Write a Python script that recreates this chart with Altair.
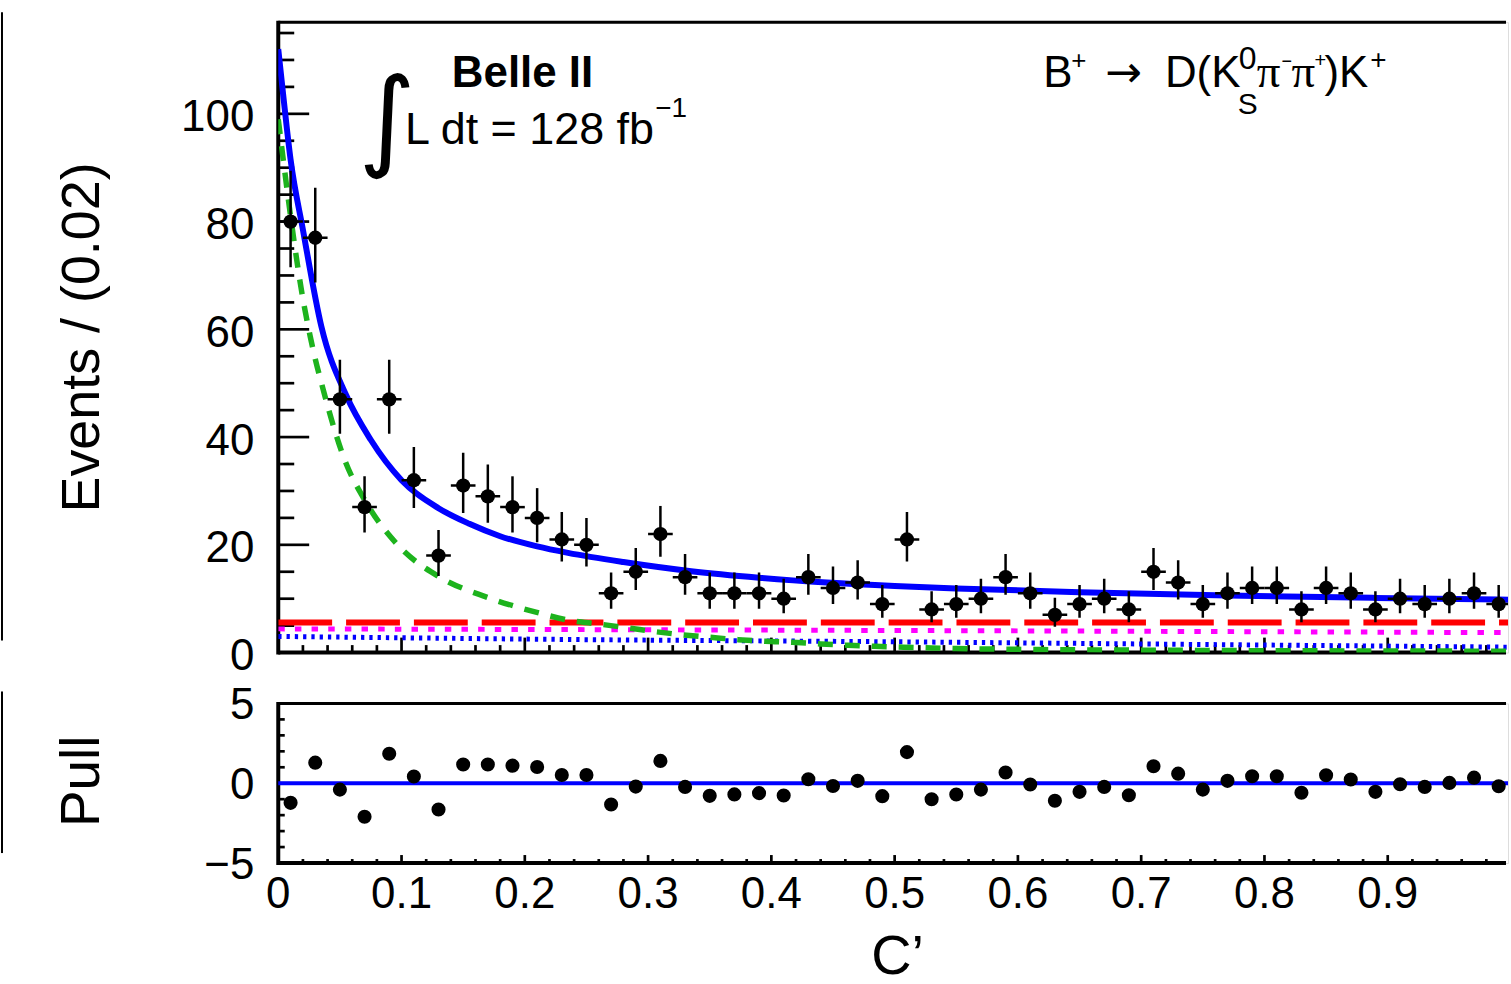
import altair as alt
import numpy as np
import pandas as pd

FONT = "Liberation Sans"
W = 1233            # visible width of the plot area (px)
X_MAX = 0.99757     # C' value at the visible right edge
H_TOP = 632
H_PULL = 160

# ---- binned data (bin width 0.02) ----
bin_center = [0.01, 0.03, 0.05, 0.07, 0.09, 0.11, 0.13, 0.15, 0.17, 0.19,
              0.21, 0.23, 0.25, 0.27, 0.29, 0.31, 0.33, 0.35, 0.37, 0.39,
              0.41, 0.43, 0.45, 0.47, 0.49, 0.51, 0.53, 0.55, 0.57, 0.59,
              0.61, 0.63, 0.65, 0.67, 0.69, 0.71, 0.73, 0.75, 0.77, 0.79,
              0.81, 0.83, 0.85, 0.87, 0.89, 0.91, 0.93, 0.95, 0.97, 0.99]
events = [80, 77, 47, 27, 47, 32, 18, 31, 29, 27,
          25, 21, 20, 11, 15, 22, 14, 11, 11, 11,
          10, 14, 12, 13, 9, 21, 8, 9, 10, 14,
          11, 7, 9, 10, 8, 15, 13, 9, 11, 12,
          12, 8, 12, 11, 8, 10, 9, 10, 11, 9]
pull = [-1.23, 1.29, -0.40, -2.10, 1.85, 0.42, -1.65, 1.17, 1.17, 1.10,
        1.02, 0.52, 0.52, -1.33, -0.21, 1.40, -0.23, -0.79, -0.70, -0.62,
        -0.77, 0.25, -0.17, 0.15, -0.81, 1.95, -1.00, -0.71, -0.40, 0.67,
        -0.08, -1.10, -0.54, -0.23, -0.75, 1.06, 0.60, -0.40, 0.15, 0.44,
        0.44, -0.60, 0.50, 0.23, -0.54, -0.06, -0.23, 0.02, 0.35, -0.19]

# ---- fit model and its components along C' ----
total_x = [0, 0.004, 0.01, 0.02, 0.035, 0.055, 0.075, 0.1, 0.13, 0.155,
           0.18, 0.21, 0.235, 0.28, 0.335, 0.39, 0.445, 0.5, 0.55, 0.65,
           0.77, 0.89, 1.0]
total_y = [112, 103.5, 91.5, 78.5, 60.5, 47.8, 39.5, 32.0, 26.8, 23.9,
           21.6, 19.7, 18.5, 16.8, 15.1, 13.9, 13.0, 12.35, 11.9, 11.2,
           10.6, 10.15, 9.8]
signal_x = [0, 0.01, 0.019, 0.026, 0.038, 0.053, 0.072, 0.096, 0.131, 0.169,
            0.209, 0.236, 0.26, 0.283, 0.305, 0.328, 0.35, 0.373, 0.395, 0.417,
            0.44, 0.462, 0.484, 0.507, 0.53, 0.55, 0.6, 0.7, 0.8, 0.9, 1.0]
signal_y = [99, 81, 67, 58.6, 47.5, 36.3, 27.6, 20.2, 14.0, 10.3,
            7.5, 6.0, 5.3, 4.6, 3.9, 3.3, 2.85, 2.4, 2.1, 1.9,
            1.6, 1.36, 1.17, 1.0, 0.87, 0.75, 0.6, 0.45, 0.35, 0.3, 0.25]
red_x = [0, 1.0]
red_y = [5.6, 5.6]
magenta_x = [0, 0.5, 1.0]
magenta_y = [4.4, 4.1, 3.7]
bluedot_x = [0, 0.25, 0.5, 0.75, 1.0]
bluedot_y = [3.0, 2.4, 2.0, 1.5, 1.0]

# ---- axis ticks and labels ----
y_major = [0, 20, 40, 60, 80, 100]
y_major_text = ["0", "20", "40", "60", "80", "100"]
y_minor = [v for v in range(5, 117, 5) if v % 20]
x_major = [0.1, 0.2, 0.3, 0.4, 0.5, 0.6, 0.7, 0.8, 0.9]
x_minor = [round(0.02 * i, 2) for i in range(1, 50) if i % 5]
x_labels = [0, 0.1, 0.2, 0.3, 0.4, 0.5, 0.6, 0.7, 0.8, 0.9]
x_labels_text = ["0", "0.1", "0.2", "0.3", "0.4", "0.5", "0.6", "0.7", "0.8", "0.9"]
p_major = [0]
p_minor = [-4, -3, -2, -1, 1, 2, 3, 4]
p_labels = [-5, 0, 5]
p_labels_text = ["\u22125", "0", "5"]

data = pd.DataFrame({"c": bin_center, "n": events, "pull": pull})
data["lo"] = data["n"] + 0.5 - np.sqrt(data["n"] + 0.25)
data["hi"] = data["n"] + 0.5 + np.sqrt(data["n"] + 0.25)
data["c_lo"] = data["c"] - 0.01
data["c_hi"] = data["c"] + 0.01

one = pd.DataFrame({"k": [0]})

xs = alt.Scale(domain=[0, X_MAX], nice=False, zero=False)
ys = alt.Scale(domain=[0, 117], nice=False)
ps = alt.Scale(domain=[-5, 5], nice=False)


def curve(xv, yv, color, width, dash=None):
    kw = dict(color=color, strokeWidth=width, clip=True, interpolate="monotone")
    if dash:
        kw["strokeDash"] = dash
    df = pd.DataFrame({"c": xv, "v": yv})
    return alt.Chart(df).mark_line(**kw).encode(
        x=alt.X("c:Q", scale=xs, axis=None),
        y=alt.Y("v:Q", scale=ys, axis=None))


def left_ticks(values, length, scale):
    df = pd.DataFrame({"v": values})
    return alt.Chart(df).mark_rule(color="black", strokeWidth=2.7).encode(
        x=alt.value(0), x2=alt.value(length),
        y=alt.Y("v:Q", scale=scale, axis=None))


def bottom_ticks(values, length, height):
    df = pd.DataFrame({"v": values})
    return alt.Chart(df).mark_rule(color="black", strokeWidth=2.7).encode(
        x=alt.X("v:Q", scale=xs, axis=None),
        y=alt.value(height), y2=alt.value(height - length))


def left_labels(values, texts, scale, dy):
    df = pd.DataFrame({"v": values, "t": texts})
    return alt.Chart(df).mark_text(
        font=FONT, fontSize=44, color="black", align="right",
        baseline="middle", dy=dy).encode(
        x=alt.value(-24), y=alt.Y("v:Q", scale=scale, axis=None), text="t:N")


def bottom_labels(values, texts, y):
    df = pd.DataFrame({"v": values, "t": texts})
    return alt.Chart(df).mark_text(
        font=FONT, fontSize=44, color="black", align="center",
        baseline="alphabetic").encode(
        x=alt.X("v:Q", scale=xs, axis=None), y=alt.value(y), text="t:N")


def frame(height, neighbour_top, neighbour_bottom):
    top = alt.Chart(one).mark_rule(color="black", strokeWidth=3).encode(
        x=alt.value(0), x2=alt.value(W - 2), y=alt.value(0))
    bottom = alt.Chart(one).mark_rule(color="black", strokeWidth=4).encode(
        x=alt.value(0), x2=alt.value(W - 2), y=alt.value(height))
    left = alt.Chart(one).mark_rule(color="black", strokeWidth=4).encode(
        x=alt.value(0), y=alt.value(-1.5), y2=alt.value(height + 2))
    # right edge of the neighbouring pad
    neighbour = alt.Chart(one).mark_rule(color="black", strokeWidth=2).encode(
        x=alt.value(-277), y=alt.value(neighbour_top),
        y2=alt.value(neighbour_bottom))
    return [top, bottom, left, neighbour]


def text(s, x, y, size, weight="normal", font=FONT, **kw):
    return alt.Chart(one).mark_text(
        text=s, font=font, fontSize=size, fontWeight=weight, color="black",
        align=kw.pop("align", "left"), baseline=kw.pop("baseline", "alphabetic"),
        **kw).encode(x=alt.value(x), y=alt.value(y))


# ---------------- upper pad ----------------
base = alt.Chart(data)
err_v = base.mark_rule(color="black", strokeWidth=2.5, clip=True).encode(
    x=alt.X("c:Q", scale=xs, axis=None),
    y=alt.Y("lo:Q", scale=ys, axis=None), y2="hi:Q")
err_h = base.mark_rule(color="black", strokeWidth=2.5, clip=True).encode(
    x=alt.X("c_lo:Q", scale=xs, axis=None), x2="c_hi:Q",
    y=alt.Y("n:Q", scale=ys, axis=None))
points = base.mark_circle(color="black", size=205, opacity=1).encode(
    x=alt.X("c:Q", scale=xs, axis=None),
    y=alt.Y("n:Q", scale=ys, axis=None))

upper_layers = frame(H_TOP, -10, 620) + [
    left_ticks(y_major, 31, ys),
    left_ticks(y_minor, 16, ys),
    bottom_ticks(x_major, 15, H_TOP),
    bottom_ticks(x_minor, 7.5, H_TOP),
    left_labels(y_major, y_major_text, ys, 4.5),
    curve(bluedot_x, bluedot_y, "#0000ff", 5, [3.3, 5]),
    curve(magenta_x, magenta_y, "#ff00ff", 5, [6.5, 10.2]),
    curve(red_x, red_y, "#ff0000", 6, [54, 14]),
    curve(signal_x, signal_y, "#1db31d", 5.5, [15, 12]),
    curve(total_x, total_y, "#0000ff", 6),
    err_v, err_h, points,
    # labels
    text("Belle II", 174, 65, 44, weight="bold"),
    text("\u222b", 109, 134, 110, font="DejaVu Sans", align="center"),
    text("L dt = 128 fb", 127, 122, 45),
    text("\u22121", 378, 95, 28),
    text("B", 767, 65, 44),
    text("+", 795, 47, 26),
    text("\u2192", 829, 65, 44, font="DejaVu Sans"),
    text("D(K", 889, 65, 44),
    text("0", 963, 47, 32),
    text("S", 962, 92, 30),
    text("\u03c0", 981, 65, 47, font="Liberation Serif"),
    text("\u2212", 1006, 45, 18),
    text("\u03c0", 1016, 65, 47, font="Liberation Serif"),
    text("+", 1039, 45, 20),
    text(")K", 1049, 65, 44),
    text("+", 1095, 47, 28),
    text("Events / (0.02)", -180, 316, 54, angle=270, align="center"),
]
upper = alt.layer(*upper_layers).properties(width=W, height=H_TOP)

# ---------------- pull pad ----------------
zero_line = alt.Chart(one).mark_rule(color="#0000ff", strokeWidth=4).encode(
    y=alt.Y("z:Q", scale=ps, axis=None), x=alt.value(0), x2=alt.value(W)
).transform_calculate(z="0")
pull_points = base.mark_circle(color="black", size=200, opacity=1).encode(
    x=alt.X("c:Q", scale=xs, axis=None),
    y=alt.Y("pull:Q", scale=ps, axis=None))

lower_layers = frame(H_PULL, -12, 150) + [
    left_ticks(p_major, 12, ps),
    left_ticks(p_minor, 6.5, ps),
    bottom_ticks(x_major, 8, H_PULL),
    bottom_ticks(x_minor, 4, H_PULL),
    left_labels(p_labels, p_labels_text, ps, 3),
    bottom_labels(x_labels, x_labels_text, H_PULL + 45),
    zero_line,
    pull_points,
    text("Pull", -180, 78, 55, angle=270, align="center"),
    text("C\u2019", 621, 271, 56, align="center"),
]
lower = alt.layer(*lower_layers).properties(width=W, height=H_PULL)

chart = alt.vconcat(upper, lower, spacing=51, bounds="flush").properties(
    padding={"left": 0, "top": 9, "right": 0, "bottom": 0}
).configure_view(stroke=None).configure(background="white")

chart.save("out.html", embed_options={"renderer": "svg", "actions": False})
